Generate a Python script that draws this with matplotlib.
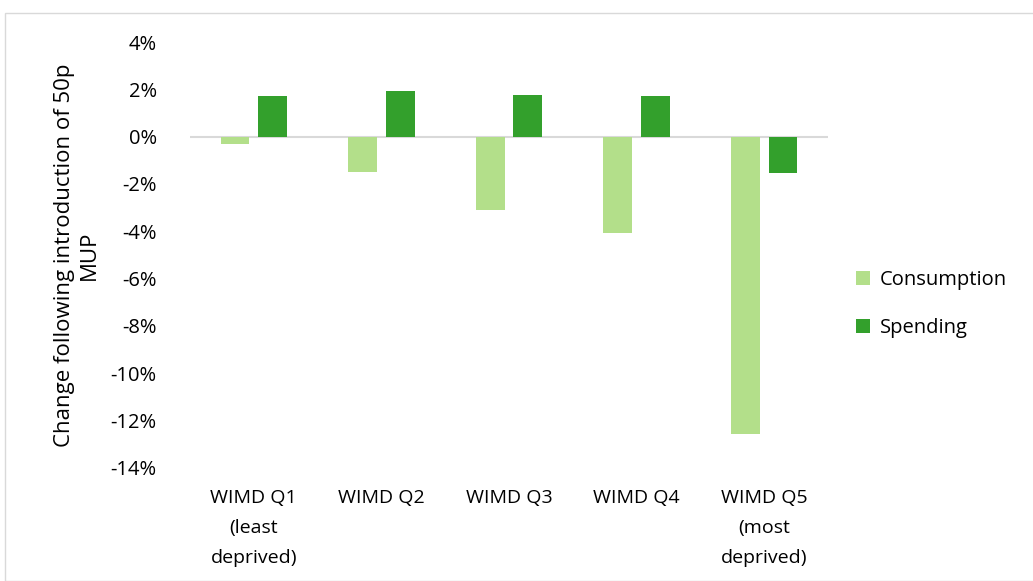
import matplotlib.pyplot as plt
import numpy as np
from matplotlib.patches import Rectangle

categories = ['WIMD Q1\n(least\ndeprived)', 'WIMD Q2', 'WIMD Q3', 'WIMD Q4',
              'WIMD Q5\n(most\ndeprived)']
consumption = [-0.3, -1.5, -3.1, -4.05, -12.55]
spending = [1.7, 1.95, 1.75, 1.7, -1.55]
yticks = [4, 2, 0, -2, -4, -6, -8, -10, -12, -14]

plt.rcParams['font.family'] = ['Open Sans', 'DejaVu Sans']

fig = plt.figure(figsize=(10.33, 5.81), dpi=100)
fig.patches.append(Rectangle((5 / 1033, 0), 1, 1 - 13 / 581, transform=fig.transFigure,
                             fill=False, edgecolor='#d9d9d9', linewidth=1))
ax = fig.add_axes([190 / 1033, 1 - 468 / 581, 638 / 1033, 426 / 581])

x = np.arange(len(categories))
w = 0.225
ax.bar(x - 0.035 - w / 2, consumption, w, color='#b3df8a', label='Consumption')
ax.bar(x + 0.035 + w / 2, spending, w, color='#33a02c', label='Spending')

ax.set_xlim(-0.5, len(categories) - 0.5)
ax.set_ylim(-14, 4)
ax.set_yticks(yticks)
ax.set_yticklabels([f'{v}%' for v in yticks], fontsize=14.5)
ax.set_xticks(x)
ax.set_xticklabels(categories, fontsize=14, linespacing=1.85, va='top')
ax.tick_params(length=0)
ax.tick_params(axis='y', pad=24)
ax.tick_params(axis='x', pad=15)
for s in ax.spines.values():
    s.set_visible(False)
ax.axhline(0, color='#d9d9d9', linewidth=1.5, zorder=0)

ax.set_ylabel('Change following introduction of 50p\nMUP', fontsize=16, labelpad=8)

ax.legend(loc='center left', bbox_to_anchor=(1.015, 0.385), frameon=False, fontsize=14.5,
          handlelength=0.7, handleheight=0.7, handletextpad=0.5, labelspacing=1.4)

fig.savefig('out.png', dpi=100)
